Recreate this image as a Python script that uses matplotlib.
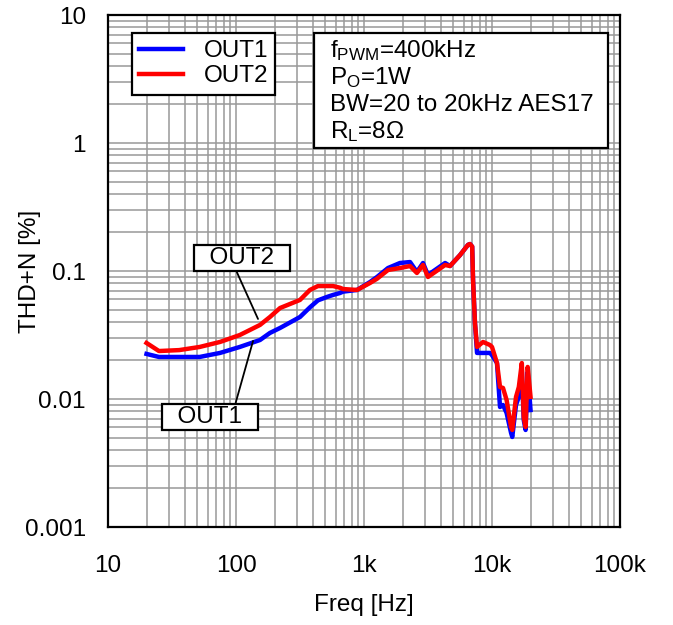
import matplotlib
matplotlib.use("Agg")
import matplotlib.pyplot as plt
from matplotlib.patches import Rectangle
from matplotlib.ticker import FixedLocator, LogLocator, NullFormatter

plt.rcParams['font.family'] = ['Liberation Sans', 'DejaVu Sans']
plt.rcParams['mathtext.fontset'] = 'custom'
plt.rcParams['mathtext.rm'] = 'Liberation Sans'
plt.rcParams['mathtext.it'] = 'Liberation Sans'

# ---- data ----
freq = [20, 25, 36, 52, 75, 107, 154, 184, 221, 316, 378, 437, 514, 573, 649, 686,
        882, 1114, 1264, 1540, 1910, 2290, 2590, 2890, 3160, 4300, 4700, 5620, 6490,
        6730, 7000, 7110, 7360, 7640, 8510, 9650, 10000, 10940, 11550, 12190, 13000,
        14100, 14400, 15400, 16200, 17100, 17700, 18300, 19000, 20000]

out1 = [0.0225, 0.0213, 0.0213, 0.0213, 0.0229, 0.0255, 0.0289, 0.0328, 0.0359, 0.0437,
        0.052, 0.059, 0.0627, 0.065, 0.0673, 0.069, 0.0711, 0.082, 0.0898, 0.1055,
        0.1155, 0.1175, 0.0983, 0.1155, 0.0931, 0.1155, 0.1094, 0.133, 0.160, 0.1625,
        0.155, 0.085, 0.0393, 0.0229, 0.0229, 0.0229, 0.022, 0.0191, 0.00866, 0.00898,
        0.00778, 0.00542, 0.00505, 0.00898, 0.0104, 0.0169, 0.00686, 0.00573, 0.01625,
        0.0082]

out2 = [0.0274, 0.0237, 0.0241, 0.0255, 0.0279, 0.0316, 0.0379, 0.0437, 0.0514, 0.0594,
        0.0711, 0.0763, 0.0763, 0.0763, 0.074, 0.0723, 0.0711, 0.0806, 0.087, 0.1018,
        0.1055, 0.1094, 0.0965, 0.1114, 0.0898, 0.1114, 0.1094, 0.133, 0.160, 0.1625,
        0.155, 0.085, 0.0393, 0.0255, 0.0279, 0.0264, 0.0255, 0.0191, 0.0124, 0.0122,
        0.00983, 0.00604, 0.00573, 0.01037, 0.0124, 0.0191, 0.00723, 0.00604, 0.0178,
        0.0104]

series_names = ['OUT1', 'OUT2']
series_colors = ['#0000ff', '#ff0000']

x_ticks = [10, 100, 1000, 10000, 100000]
x_ticklabels = ['10', '100', '1k', '10k', '100k']
y_ticks = [0.001, 0.01, 0.1, 1, 10]
y_ticklabels = ['0.001', '0.01', '0.1', '1', '10']

info_lines = ['f$_{\\rm PWM}$=400kHz', 'P$_{\\rm O}$=1W', 'BW=20 to 20kHz AES17', 'R$_{\\rm L}$=8\u03a9']

FS = 17.5

fig = plt.figure(figsize=(6.73, 6.25), dpi=100)
ax = fig.add_axes([108/673, 1-527/625, 512/673, 512/625])

ax.set_xscale('log')
ax.set_yscale('log')
ax.set_xlim(10, 100000)
ax.set_ylim(0.001, 10)

ax.xaxis.set_major_locator(FixedLocator(x_ticks))
ax.set_xticklabels(x_ticklabels)
ax.yaxis.set_major_locator(FixedLocator(y_ticks))
ax.set_yticklabels(y_ticklabels)
ax.xaxis.set_minor_locator(LogLocator(base=10, subs=range(2, 10), numticks=20))
ax.yaxis.set_minor_locator(LogLocator(base=10, subs=range(2, 10), numticks=20))
ax.xaxis.set_minor_formatter(NullFormatter())
ax.yaxis.set_minor_formatter(NullFormatter())
ax.tick_params(which='both', length=0, labelsize=FS)
ax.tick_params(axis='x', pad=20)
ax.tick_params(axis='y', pad=16)

ax.grid(which='both', color='#999999', linewidth=1.1)
ax.set_axisbelow(True)
for s in ax.spines.values():
    s.set_linewidth(1.6)
    s.set_color('black')

l1, = ax.plot(freq, out1, color=series_colors[0], linewidth=3.2, label=series_names[0], zorder=3)
l2, = ax.plot(freq, out2, color=series_colors[1], linewidth=3.2, label=series_names[1], zorder=4)

ax.set_xlabel('Freq [Hz]', fontsize=FS)
ax.xaxis.set_label_coords(0.5, (527-605)/512)
ax.xaxis.label.set_va('center')
ax.set_ylabel('THD+N [%]', fontsize=FS)
ax.yaxis.set_label_coords((30-108)/512, 0.5)
ax.yaxis.label.set_va('center')

leg = ax.legend(handles=[l1, l2], loc='upper left', bbox_to_anchor=(24/512, 494/512),
                borderaxespad=0, fontsize=FS, fancybox=False, framealpha=1,
                edgecolor='black', handlelength=1.8, handletextpad=0.85,
                labelspacing=0.12, borderpad=0.3)
leg.get_frame().set_linewidth(1.6)
leg.set_zorder(10)

# info box
ax.add_patch(Rectangle(((314-108)/512, (527-148)/512), (608-314)/512, (148-33)/512,
                       transform=ax.transAxes, facecolor='white', edgecolor='black',
                       linewidth=1.6, zorder=10))
for i, t in enumerate(info_lines):
    ax.text((330-108)/512, (527-57-i*27)/512, t, transform=ax.transAxes,
            fontsize=FS, ha='left', va='baseline', zorder=11)

# callouts
ax.annotate('  OUT2  ', xy=(148.6, 0.0422), xytext=(111, 0.1265), textcoords='data',
            fontsize=FS, ha='center', va='center', zorder=12,
            bbox=dict(boxstyle='square,pad=0.1', facecolor='white', edgecolor='black', linewidth=1.6),
            arrowprops=dict(arrowstyle='-', color='black', linewidth=1.3, relpos=(0.43, 0),
                            shrinkA=0, shrinkB=0))
ax.annotate('  OUT1  ', xy=(135.9, 0.0284), xytext=(62.7, 0.00723), textcoords='data',
            fontsize=FS, ha='center', va='center', zorder=12,
            bbox=dict(boxstyle='square,pad=0.1', facecolor='white', edgecolor='black', linewidth=1.6),
            arrowprops=dict(arrowstyle='-', color='black', linewidth=1.3, relpos=(0.77, 1),
                            shrinkA=0, shrinkB=0))

fig.savefig('out.png', dpi=100)
